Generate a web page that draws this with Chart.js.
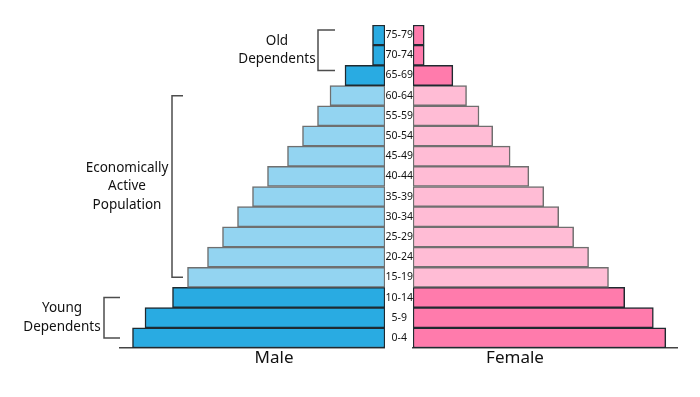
<!DOCTYPE html>
<html lang="en">

<head>
  <meta charset="UTF-8">
  <title>Population Pyramid</title>
  <script src="https://cdn.jsdelivr.net/npm/chart.js"></script>
  <style>
    body { margin: 0; background: #fff; }
    #wrap { position: relative; width: 700px; height: 397px; overflow: hidden; }
    #wrap canvas { position: absolute; top: 0; }
  </style>
</head>

<body>
  <div id="wrap">
    <canvas id="maleChart" width="385" height="397" style="left:0"></canvas>
    <canvas id="femaleChart" width="315" height="397" style="left:385px"></canvas>
  </div>

  <script>
    // age groups, youngest first
    const ageGroups = ['0-4', '5-9', '10-14', '15-19', '20-24', '25-29', '30-34', '35-39',
      '40-44', '45-49', '50-54', '55-59', '60-64', '65-69', '70-74', '75-79'];
    const maleValues = [10.1, 9.6, 8.5, 7.9, 7.1, 6.5, 5.9, 5.3, 4.7, 3.9, 3.3, 2.7, 2.2, 1.6, 0.5, 0.5];
    const femaleValues = [10.15, 9.65, 8.5, 7.85, 7.05, 6.45, 5.85, 5.25, 4.65, 3.9, 3.2, 2.65, 2.15, 1.6, 0.45, 0.45];
    const axisMax = 10.6;

    // dependency brackets (index range into ageGroups)
    const brackets = [
      { lines: ['Old', 'Dependents'], from: 13, to: 15, x: 318, tick: 17, textX: 277, shift: -5 },
      { lines: ['Economically', 'Active', 'Population'], from: 3, to: 12, x: 172, tick: 11, textX: 127, shift: 0 },
      { lines: ['Young', 'Dependents'], from: 0, to: 2, x: 104, tick: 16, textX: 62, shift: 0 }
    ];

    const FONT = '"Noto Sans", sans-serif';
    const isDependent = i => i <= 2 || i >= 13;

    function barStyle(dark, light) {
      return {
        backgroundColor: ageGroups.map((a, i) => isDependent(i) ? dark : light),
        borderColor: ageGroups.map((a, i) => isDependent(i) ? '#1f2a30' : '#6f6f6f'),
        borderWidth: 1.5,
        borderSkipped: false,
        categoryPercentage: 1,
        barPercentage: 1
      };
    }

    function xScale(reverse) {
      return {
        min: 0,
        max: axisMax,
        reverse: reverse,
        grid: { display: false, drawTicks: false },
        border: { display: true, color: '#444', width: 1.5 },
        ticks: { display: false }
      };
    }

    // brackets + side titles for the male half
    const maleNotes = {
      id: 'maleNotes',
      afterDraw(chart) {
        const ctx = chart.ctx;
        const y = chart.scales.y;
        ctx.save();
        ctx.strokeStyle = '#4d4d4d';
        ctx.lineWidth = 1.5;
        ctx.fillStyle = '#111';
        ctx.font = '13.5px ' + FONT;
        ctx.textAlign = 'center';
        ctx.textBaseline = 'middle';
        brackets.forEach(b => {
          const top = y.getPixelForValue(b.to) + b.shift;
          const bottom = y.getPixelForValue(b.from) + b.shift;
          ctx.beginPath();
          ctx.moveTo(b.x + b.tick, top);
          ctx.lineTo(b.x, top);
          ctx.lineTo(b.x, bottom);
          ctx.lineTo(b.x + b.tick, bottom);
          ctx.stroke();
          const mid = (top + bottom) / 2;
          const lh = 18.5;
          b.lines.forEach((t, k) => {
            ctx.fillText(t, b.textX, mid + (k - (b.lines.length - 1) / 2) * lh);
          });
        });
        ctx.font = '17px ' + FONT;
        ctx.fillText('Male', 274, 358);
        ctx.restore();
      }
    };

    const femaleNotes = {
      id: 'femaleNotes',
      afterDraw(chart) {
        const ctx = chart.ctx;
        ctx.save();
        ctx.fillStyle = '#111';
        ctx.font = '17px ' + FONT;
        ctx.textAlign = 'center';
        ctx.textBaseline = 'middle';
        ctx.fillText('Female', 130, 358);
        ctx.restore();
      }
    };

    new Chart(document.getElementById('maleChart'), {
      type: 'bar',
      data: {
        labels: ageGroups,
        datasets: [Object.assign({ label: 'Male', data: maleValues }, barStyle('#29abe2', '#93d4f1'))]
      },
      options: {
        responsive: false,
        animation: false,
        indexAxis: 'y',
        layout: { padding: { left: 120, right: 0, top: 25, bottom: 49 } },
        plugins: { legend: { display: false }, tooltip: { enabled: false } },
        scales: {
          x: xScale(true),
          y: { display: false, reverse: true }
        }
      },
      plugins: [maleNotes]
    });

    new Chart(document.getElementById('femaleChart'), {
      type: 'bar',
      data: {
        labels: ageGroups,
        datasets: [Object.assign({ label: 'Female', data: femaleValues }, barStyle('#ff7bac', '#ffbcd5'))]
      },
      options: {
        responsive: false,
        animation: false,
        indexAxis: 'y',
        layout: { padding: { left: 0, right: 23, top: 25, bottom: 49 } },
        plugins: { legend: { display: false }, tooltip: { enabled: false } },
        scales: {
          x: xScale(false),
          y: {
            reverse: true,
            grid: { display: false, drawTicks: false },
            border: { display: false },
            ticks: {
              crossAlign: 'center',
              padding: 0,
              color: '#111',
              font: { family: FONT, size: 10.5 }
            },
            afterFit(scale) { scale.width = 28; }
          }
        }
      },
      plugins: [femaleNotes]
    });
  </script>
</body>

</html>
